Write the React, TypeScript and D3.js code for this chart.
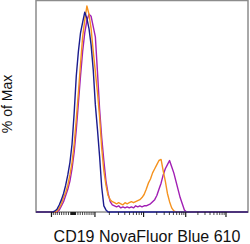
import React, { useEffect, useRef } from "react";
import * as d3 from "d3";

// channel grid (display units 0..1000) and % of max for each stain
const channels = d3.range(80, 730, 10);

const isotype = [
  0, 0.5, 1.5, 3.5, 6, 9, 13, 18, 24, 33, 48, 66, 78, 87, 92, 97, 94, 89, 81, 69,
  52, 40, 27, 12, 3, 1, 0, 0, 0, 0, 0, 0, 0, 0, 0, 0, 0, 0, 0, 0,
  0, 0, 0, 0, 0, 0, 0, 0, 0, 0, 0, 0, 0, 0, 0, 0, 0, 0, 0, 0,
  0, 0, 0, 0, 0,
];

const cd19Orange = [
  0, 0, 0.5, 2, 4, 7, 9.5, 13, 18, 24, 33, 45, 58, 72, 85, 93, 100, 96, 89, 78,
  68, 58, 46, 31, 20, 13, 8, 6, 5, 4.5, 4, 4.5, 4, 3.5, 4.5, 4, 4.5, 5, 4.5, 5,
  5.5, 6, 7, 8.5, 11, 14, 16, 19, 21, 23, 25, 25.5, 20, 15, 9, 5, 2, 0.5, 0, 0,
  0, 0, 0, 0, 0,
];

const cd19Purple = [
  0, 0, 0, 1, 3, 5, 8, 11, 15, 21, 29, 40, 53, 66, 78, 87, 93, 96, 95, 90,
  85, 68, 50, 36, 25, 15, 9, 5, 3.5, 3, 2.5, 3, 2, 2.5, 2, 2.5, 2, 2.5, 2, 3,
  2.5, 3, 2.5, 3, 3, 3.5, 4, 5, 6, 8, 11, 14, 18, 21, 23, 25, 22, 19, 15, 11,
  7, 4, 1, 0, 0,
];

const series = [
  { name: "CD19 (clone B)", values: cd19Purple, color: "#a11fb4" },
  { name: "CD19 (clone A)", values: cd19Orange, color: "#f5921e" },
  { name: "Isotype", values: isotype, color: "#1c1c8e" },
];

const majorTicks = [-1e3, 1e3, 1e4, 1e5, 1e6];
const minorTicks = [1, 2, 3, 4, 5]
  .flatMap((p) => d3.range(2, 10).map((k) => k * 10 ** p))
  .concat([10, 100])
  .flatMap((v) => (v < 1e3 ? [v, -v] : [v]));

// logicle (biexponential) display transform
function makeLogicle(T: number, W: number, M: number, A: number) {
  const w = W / (M + A);
  const x2 = A / (M + A);
  const x1 = x2 + w;
  const x0 = x2 + 2 * w;
  const b = (M + A) * Math.LN10;
  let lo = 1e-9, hi = b;
  for (let i = 0; i < 200; i++) {
    const mid = (lo + hi) / 2;
    const f = 2 * (Math.log(mid) - Math.log(b)) + w * (b + mid);
    if (f > 0) hi = mid;
    else lo = mid;
  }
  const d = (lo + hi) / 2;
  const ca = Math.exp(x0 * (b + d));
  const mfa = Math.exp(b * x1) - ca / Math.exp(d * x1);
  const a = T / (Math.exp(b) - mfa - ca / Math.exp(d));
  const c = ca * a;
  const f = -mfa * a;
  const S = (x: number): number =>
    x >= x1
      ? a * Math.exp(b * x) - c * Math.exp(-d * x) + f
      : -(a * Math.exp(b * (2 * x1 - x)) - c * Math.exp(-d * (2 * x1 - x)) + f);
  return (v: number) => {
    let l = -1, h = 2;
    for (let i = 0; i < 80; i++) {
      const m = (l + h) / 2;
      if (S(m) > v) h = m;
      else l = m;
    }
    return (l + h) / 2;
  };
}

const App = () => {
  const svgRef = useRef<SVGSVGElement>(null);
  const width = 250;
  const height = 244;

  useEffect(() => {
    const svg = d3.select(svgRef.current);
    svg.selectAll("*").remove();

    const margin = { top: 1, right: 2, bottom: 32, left: 36 };
    const x0 = margin.left;
    const x1 = width - margin.right;
    const yBase = height - margin.bottom;

    const logicle = makeLogicle(10 ** 6.55, 0.93, 5.3, 0);
    const xScale = d3.scaleLinear().domain([0, 1]).range([x0, x1]);
    const yScale = d3.scaleLinear().domain([0, 100]).range([yBase, 6]);

    // frame
    svg
      .append("rect")
      .attr("x", x0)
      .attr("y", margin.top - 0.5)
      .attr("width", x1 - x0)
      .attr("height", yBase - margin.top + 0.5)
      .attr("fill", "none")
      .attr("stroke", "#8c8c8c")
      .attr("stroke-width", 1.5);

    // histograms
    const line = d3
      .line<[number, number]>()
      .x((d) => xScale(d[0] / 1000))
      .y((d) => yScale(d[1]));

    series.forEach((s) => {
      const pts: [number, number][] = [[0, 0]];
      channels.forEach((c, i) => pts.push([c, s.values[i]]));
      pts.push([1000, 0]);
      svg
        .append("path")
        .attr("d", line(pts))
        .attr("fill", "none")
        .attr("stroke", s.color)
        .attr("stroke-width", 1.4)
        .attr("stroke-linejoin", "round");
    });

    // x axis ticks
    const ticks = svg.append("g").attr("stroke", "#1a1a1a");
    ticks
      .selectAll("line.minor")
      .data(minorTicks)
      .enter()
      .append("line")
      .attr("x1", (v) => xScale(logicle(v)))
      .attr("x2", (v) => xScale(logicle(v)))
      .attr("y1", yBase)
      .attr("y2", yBase + 3)
      .attr("stroke-width", 0.8);
    ticks
      .selectAll("line.major")
      .data(majorTicks)
      .enter()
      .append("line")
      .attr("x1", (v) => xScale(logicle(v)))
      .attr("x2", (v) => xScale(logicle(v)))
      .attr("y1", yBase)
      .attr("y2", yBase + 5)
      .attr("stroke-width", 1.2);

    // labels
    svg
      .append("text")
      .attr("x", (x0 + x1) / 2 + 5)
      .attr("y", height - 2)
      .attr("text-anchor", "middle")
      .attr("font-family", "'Liberation Sans', Arial, sans-serif")
      .attr("font-size", 16)
      .attr("fill", "#111")
      .text("CD19 NovaFluor Blue 610");

    svg
      .append("text")
      .attr("transform", `translate(12,${yBase / 2 - 2}) rotate(-90)`)
      .attr("text-anchor", "middle")
      .attr("font-family", "'Liberation Sans', Arial, sans-serif")
      .attr("font-size", 14)
      .attr("fill", "#111")
      .text("% of Max");
  }, []);

  return (
    <svg
      ref={svgRef}
      width={width}
      height={height}
      style={{ position: "absolute", left: 0, top: 0, background: "#fff" }}
    />
  );
};

export default App;
